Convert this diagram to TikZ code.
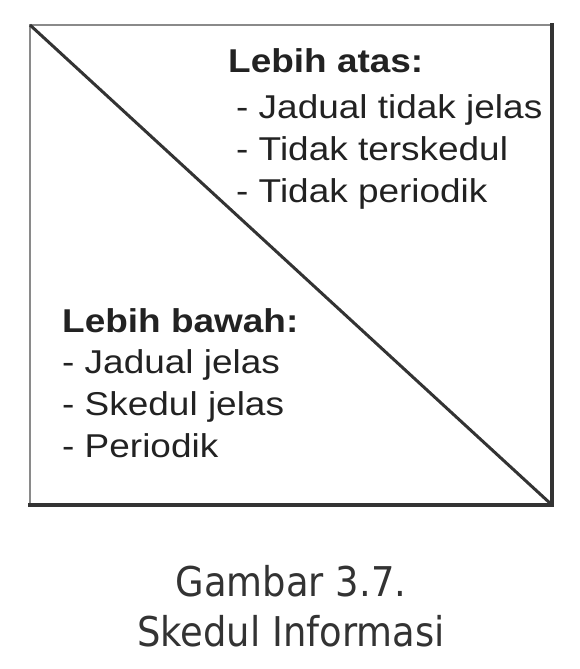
\documentclass[tikz,border=0pt]{standalone}
\usepackage{fontspec}
\newfontfamily\boxfont[FakeStretch=1.12]{Liberation Sans}
\newfontfamily\capfont[FakeStretch=0.9]{DejaVu Sans}
\definecolor{ink}{HTML}{222222}
\definecolor{lightedge}{HTML}{8A8A8A}
\definecolor{darkedge}{HTML}{333333}
\begin{document}
\begin{tikzpicture}[x=1pt,y=-1pt,
  txt/.style={anchor=base west,inner sep=0pt,text=ink,font=\boxfont\fontsize{33}{40}\selectfont},
  ttl/.style={txt,font=\boxfont\bfseries\fontsize{33}{40}\selectfont},
  captext/.style={anchor=base,inner sep=0pt,text=darkedge,font=\capfont\fontsize{41}{48}\selectfont}]
\useasboundingbox (0,0) rectangle (580,669);
\coordinate (tl) at (30,25);
\coordinate (tr) at (552,25);
\coordinate (bl) at (30,505);
\coordinate (br) at (552,505);
\draw[lightedge,line width=2.8pt] (bl) -- (tl) -- (tr);
\draw[darkedge,line width=4pt,line cap=rect] (tr) -- (br) -- (bl);
\draw[darkedge,line width=3pt] (tl) -- (br);
\node[ttl] (ua) at (228,73) {Lebih atas:};
\node[txt] (u1) at (236,118) {- Jadual tidak jelas};
\node[txt] (u2) at (236,160) {- Tidak terskedul};
\node[txt] (u3) at (236,202) {- Tidak periodik};
\node[ttl] (lb) at (62,332) {Lebih bawah:};
\node[txt] (l1) at (62,373) {- Jadual jelas};
\node[txt] (l2) at (62,415) {- Skedul jelas};
\node[txt] (l3) at (62,457) {- Periodik};
\node[captext] (c1) at (291,596) {Gambar 3.7.};
\node[captext] (c2) at (291,646) {Skedul Informasi};
\end{tikzpicture}
\end{document}
